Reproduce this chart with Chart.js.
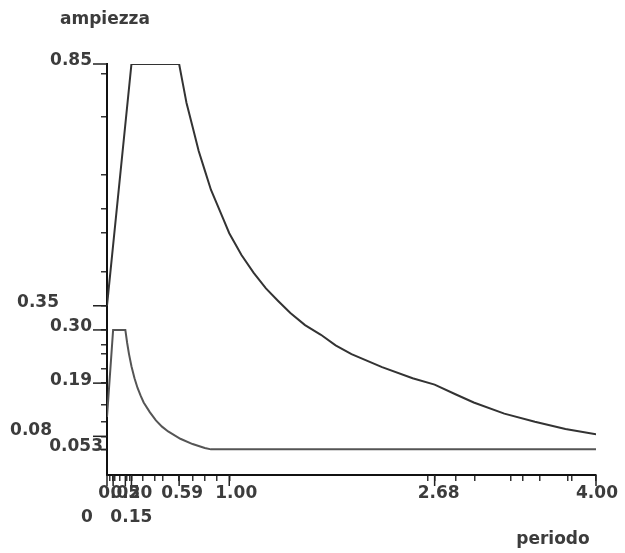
<!DOCTYPE html>
<html>
<head>
<meta charset="utf-8">
<script src="https://cdn.jsdelivr.net/npm/chart.js@4.4.1/dist/chart.umd.min.js"></script>
<style>
html,body{margin:0;padding:0;background:#fff;}
#wrap{width:625px;height:553px;}
</style>
</head>
<body>
<div id="wrap"><canvas id="chart" width="625" height="553"></canvas></div>
<script>
// spectrum values
const upperPeriods=[0,0.20,0.59,0.62,0.65,0.70,0.75,0.80,0.85,0.90,0.95,1.00,1.10,1.20,1.30,1.40,1.50,1.62,1.75,1.87,2.00,2.25,2.50,2.68,2.85,3.00,3.25,3.50,3.75,4.00];
const upperValues=[0.35,0.85,0.85,0.81,0.77,0.72,0.67,0.63,0.59,0.56,0.53,0.50,0.455,0.418,0.386,0.36,0.335,0.31,0.29,0.268,0.25,0.223,0.20,0.187,0.167,0.15,0.127,0.11,0.095,0.084];
const lowerPeriods=[0,0.05,0.15,0.165,0.18,0.20,0.225,0.25,0.275,0.30,0.35,0.40,0.45,0.50,0.60,0.70,0.80,0.85,4.00];
const lowerValues=[0.12,0.30,0.30,0.273,0.25,0.225,0.20,0.18,0.164,0.15,0.13,0.113,0.10,0.09,0.075,0.064,0.056,0.053,0.053];

const xTickValues=[0.05,0.20,0.59,1.00,2.68,4.00];
const xTickLabels=['0.05','0.20','0.59','1.00','2.68','4.00'];
const xLowTickValues=[0,0.15];
const xLowTickLabels=['0','0.15'];
const xMinorTicks=[0.025,0.05,0.065,0.105,0.15,0.16,0.19,0.20,0.29,0.39,0.46,0.59,0.70,0.80,0.90,1.00,2.62,2.68,2.85,3.01,3.30,3.40,3.54,3.77,3.80,4.00];

const yTickValues=[0.85,0.35,0.30,0.19,0.08,0.053];
const yTickLabels=['0.85','0.35','0.30','0.19','0.08','0.053'];
const yMinorTicks=[0.83,0.74,0.62,0.55,0.50,0.42,0.35,0.30,0.27,0.25,0.22,0.19,0.145,0.11,0.08,0.053];

const font='bold 17px "DejaVu Sans"';
const ink='#3c3c3c';

const toPoints=(xs,ys)=>xs.map((x,i)=>({x:x,y:ys[i]}));

const axisText={
    id:'axisText',
    afterDraw(chart){
        const ctx=chart.ctx, xs=chart.scales.x, ys=chart.scales.y;
        const left=chart.chartArea.left, bottom=chart.chartArea.bottom;
        ctx.save();
        // long ticks for the labelled values
        ctx.strokeStyle='#222';
        ctx.lineWidth=1.5;
        yTickValues.forEach(v=>{
            const py=ys.getPixelForValue(v);
            ctx.beginPath();ctx.moveTo(left-14,py);ctx.lineTo(left,py);ctx.stroke();
        });
        xTickValues.concat(xLowTickValues).forEach(v=>{
            const px=xs.getPixelForValue(v);
            ctx.beginPath();ctx.moveTo(px,bottom);ctx.lineTo(px,bottom+11);ctx.stroke();
        });
        ctx.font=font;
        ctx.fillStyle=ink;
        ctx.textBaseline='middle';
        // y labels, two of them pushed left so they do not collide
        ctx.textAlign='right';
        const yShift={'0.35':[-33,-3],'0.08':[-40,-6],'0.053':[11,-3]};
        yTickValues.forEach((v,i)=>{
            const s=yShift[yTickLabels[i]]||[0,-3];
            ctx.fillText(yTickLabels[i],left-15+s[0],ys.getPixelForValue(v)+s[1]);
        });
        // x labels, first and second row
        ctx.textAlign='center';
        const xShift={'0.05':6,'0.20':0,'0.59':3,'1.00':7,'2.68':4,'4.00':1};
        xTickValues.forEach((v,i)=>{
            ctx.fillText(xTickLabels[i],xs.getPixelForValue(v)+(xShift[xTickLabels[i]]||0),bottom+19);
        });
        const xLowShift={'0':-20,'0.15':6};
        xLowTickValues.forEach((v,i)=>{
            ctx.fillText(xLowTickLabels[i],xs.getPixelForValue(v)+xLowShift[xLowTickLabels[i]],bottom+43);
        });
        // axis titles
        ctx.fillText('ampiezza',left-2,20);
        ctx.fillText('periodo',553,540);
        ctx.restore();
    }
};

const ctxChart=document.getElementById('chart').getContext('2d');
new Chart(ctxChart,{
    type:'line',
    data:{
        datasets:[
            {label:'upper',data:toPoints(upperPeriods,upperValues),borderColor:'#333',borderWidth:2,pointRadius:0,tension:0},
            {label:'lower',data:toPoints(lowerPeriods,lowerValues),borderColor:'#555',borderWidth:2,pointRadius:0,tension:0}
        ]
    },
    options:{
        responsive:false,
        animation:false,
        layout:{padding:{left:0,top:64,right:29,bottom:0}},
        plugins:{legend:{display:false},tooltip:{enabled:false},title:{display:false}},
        scales:{
            x:{
                type:'linear',min:0,max:4,
                afterBuildTicks:s=>{s.ticks=xMinorTicks.map(v=>({value:v}));},
                afterFit:s=>{s.height=78;},
                ticks:{callback:()=>'',autoSkip:false,maxRotation:0,padding:0},
                grid:{drawOnChartArea:false,tickLength:6,color:'#333',lineWidth:1.5},
                border:{color:'#111',width:2}
            },
            y:{
                type:'linear',min:0,max:0.85,
                afterBuildTicks:s=>{s.ticks=yMinorTicks.map(v=>({value:v}));},
                afterFit:s=>{s.width=107;},
                ticks:{callback:()=>'',autoSkip:false,padding:0},
                grid:{drawOnChartArea:false,tickLength:6,color:'#333',lineWidth:1.5},
                border:{color:'#111',width:2}
            }
        }
    },
    plugins:[axisText]
});
</script>
</body>
</html>
